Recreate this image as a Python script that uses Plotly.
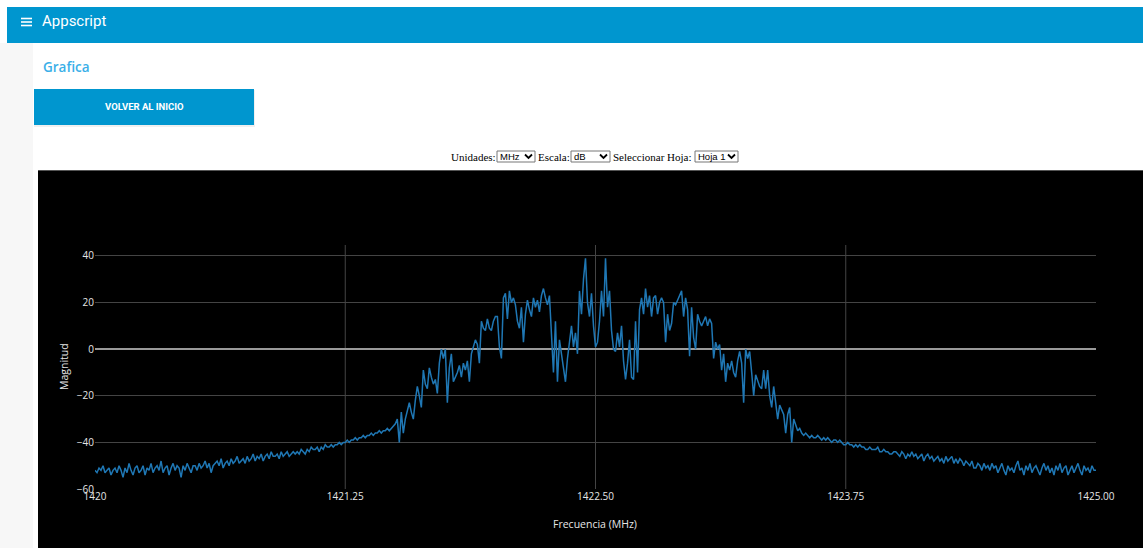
import numpy as np
import plotly.graph_objects as go

# ---------------- data (magnitude in dB, 0.01 MHz bins) ----------------
STEP = 0.01
seg_start = [1420.00, 1420.50, 1421.00, 1421.50, 1422.50, 1423.50, 1424.00, 1424.50]

mag_a = [-52,-53,-51,-52,-50,-53,-52,-51,-54,-52, -51,-53,-50,-52,-55,-51,-53,-49,-52,-54,
         -51,-50,-53,-52,-50,-54,-51,-52,-49,-53, -51,-50,-52,-48,-53,-51,-50,-54,-51,-49,
         -52,-50,-51,-55,-50,-52,-49,-51,-53,-50]
mag_b = [-50,-52,-49,-51,-50,-48,-51,-49,-53,-50, -49,-48,-50,-47,-51,-49,-48,-50,-47,-49,
         -48,-46,-49,-48,-47,-49,-46,-48,-47,-45, -48,-46,-47,-45,-48,-46,-45,-47,-44,-46,
         -46,-45,-47,-44,-46,-45,-44,-46,-45,-44]
mag_c = [-45,-44,-45,-43,-44,-45,-43,-44,-42,-43, -43,-42,-44,-42,-43,-41,-42,-42,-41,-42,
         -41,-41,-40,-41,-40,-40,-39,-40,-39,-39, -38,-39,-38,-38,-37,-38,-37,-37,-36,-37,
         -36,-36,-35,-36,-35,-35,-34,-35,-34,-33]
mag_d = [-32,-30,-40,-27,-36,-30,-27,-23,-27,-30, -22,-16,-20,-25,-9,-15,-17,-8,-12,-15,
         -13,-19,-6,0,-4,0,-23,-8,-2,-14, -12,-10,-7,-12,-6,-9,-5,-14,-2,1,
         4,2,-6,12,9,8,13,9,8,12, 14,14,1,-4,22,24,13,25,20,22,
         19,12,9,18,3,15,21,17,14,22, 18,21,16,23,26,22,19,23,4,-10,
         12,-14,4,-2,-8,-14,-4,4,10,1, 7,-2,25,15,30,39,20,14,24,10]
mag_e = [1,3,12,25,14,39,18,25,8,0, -1,7,1,10,-5,-13,-6,4,-12,-13,
         12,-10,17,22,15,26,18,23,14,22, 23,15,20,22,20,3,15,8,11,20,
         19,21,23,25,14,22,17,-3,18,5, 0,15,12,10,12,14,10,13,11,-4,
         3,0,2,-9,-2,-14,-6,-9,-5,-10, -12,-5,-1,-6,-23,0,-4,-1,-10,-20,
         -11,-14,-16,-17,-9,-17,-9,-20,-25,-16, -22,-30,-24,-26,-28,-36,-28,-25,-40,-30]
mag_f = [-33,-35,-34,-36,-37,-36,-37,-38,-37,-38, -38,-37,-38,-39,-38,-39,-38,-39,-40,-39,
         -39,-40,-39,-40,-41,-41,-40,-41,-41,-42, -41,-42,-41,-42,-42,-43,-43,-42,-43,-43,
         -43,-42,-44,-44,-43,-44,-44,-45,-45,-44]
mag_g = [-44,-45,-46,-44,-45,-47,-45,-46,-44,-46, -45,-47,-46,-45,-48,-46,-45,-47,-46,-48,
         -47,-46,-48,-47,-49,-46,-48,-47,-46,-49, -47,-49,-47,-48,-50,-48,-49,-50,-48,-51,
         -51,-49,-50,-52,-49,-51,-50,-52,-49,-51]
mag_h = [-50,-53,-51,-49,-52,-54,-50,-52,-51,-53, -50,-48,-52,-51,-54,-50,-52,-49,-53,-51,
         -50,-52,-54,-51,-49,-52,-50,-53,-51,-54, -50,-52,-49,-53,-51,-50,-54,-52,-50,-53,
         -51,-49,-52,-54,-50,-52,-51,-53,-50,-52, -52]

segments = [mag_a, mag_b, mag_c, mag_d, mag_e, mag_f, mag_g, mag_h]

x_tickvals = [1420, 1421.25, 1422.5, 1423.75, 1425]
x_ticktext = ["1420", "1421.25", "1422.50", "1423.75", "1425.00"]
y_tickvals = [-60, -40, -20, 0, 20, 40]

freq, mag = [], []
for start, seg in zip(seg_start, segments):
    freq.extend(start + STEP * np.arange(len(seg)))
    mag.extend(seg)

# ---------------- geometry helpers ----------------
W, H = 1143, 548
L, R, T, B = 95, 47, 245, 59
PW, PH = W - L - R, H - T - B


def px(x):
    return (x - L) / PW


def py(y):
    return (H - B - y) / PH


fig = go.Figure()
fig.add_trace(go.Scatter(x=freq, y=mag, mode="lines",
                         line=dict(color="#1f77b4", width=1.5),
                         hoverinfo="skip", showlegend=False))

shapes = []


def rect(x0, y0, x1, y1, fill, line_color=None, lw=0, layer="below"):
    shapes.append(dict(type="rect", xref="paper", yref="paper",
                       x0=px(x0), x1=px(x1), y0=py(y1), y1=py(y0),
                       fillcolor=fill, layer=layer,
                       line=dict(color=line_color or fill, width=lw)))


def hline(x0, x1, y, color, lw, layer="above"):
    shapes.append(dict(type="line", xref="paper", yref="paper",
                       x0=px(x0), x1=px(x1), y0=py(y), y1=py(y),
                       line=dict(color=color, width=lw), layer=layer))


# page background pieces
rect(0, 43, 33, 548, "#F7F7F7")
rect(7, 7, 1143, 43, "#0096CF")
rect(38, 170, 1143, 548, "#000000")
hline(38, 1143, 170.5, "#555555", 1, layer="below")
# hamburger icon
for yy in (18.5, 22, 25.5):
    hline(21, 32, yy, "#FFFFFF", 1.6)
# button with soft shadow
rect(34, 90, 255, 127, "rgba(0,0,0,0.06)")
rect(34, 89, 254, 125, "#0096CF")

# select boxes
boxes = [(497, 535, "MHz"), (571, 610, "dB"), (695, 738, "Hoja 1")]
for bx0, bx1, _ in boxes:
    rect(bx0, 151, bx1, 162, "#FFFFFF", "#767676", 1, layer="above")
    cx = bx1 - 6.5
    shapes.append(dict(type="path", xref="paper", yref="paper",
                       path=f"M {px(cx-3.5)} {py(154.5)} L {px(cx)} {py(158)} L {px(cx+3.5)} {py(154.5)}",
                       line=dict(color="#000000", width=1.8), layer="above"))

# vertical grid lines (interior ticks)
for tv in x_tickvals[1:-1]:
    shapes.append(dict(type="line", xref="x", yref="paper", x0=tv, x1=tv, y0=0, y1=1,
                       line=dict(color="#444444", width=1), layer="below"))

annotations = []


def ann(text, x, y, size, color, family="Roboto", xanchor="left", weight="normal", angle=0):
    annotations.append(dict(text=text, xref="paper", yref="paper", x=px(x), y=py(y),
                            xanchor=xanchor, yanchor="middle", showarrow=False,
                            textangle=angle,
                            font=dict(size=size, color=color, family=family, weight=weight)))


ann("Appscript", 40, 21, 15, "#FFFFFF", "Roboto")
ann("Grafica", 41, 67, 13.5, "#3AAFE8", "Open Sans", weight=600)
ann("VOLVER AL INICIO", 144, 107, 9.5, "#FFFFFF", "Roboto", xanchor="center", weight="bold")
serif = "Liberation Serif"
ann("Unidades:", 449, 156.5, 11, "#000000", serif)
ann("Escala:", 535.5, 156.5, 11, "#000000", serif)
ann("Seleccionar Hoja:", 611, 156.5, 11, "#000000", serif)
for bx0, bx1, label in boxes:
    ann(label, bx0 + 1, 156.5, 9.5, "#000000", "Liberation Sans")
ann("Magnitud", 64, 367, 10.5, "#E6E6E6", "Open Sans", xanchor="center", angle=-90)
ann("Frecuencia (MHz)", 595, 524, 10.5, "#E6E6E6", "Open Sans", xanchor="center")

fig.update_layout(
    width=W, height=H, autosize=False,
    margin=dict(l=L, r=R, t=T, b=B, pad=0),
    paper_bgcolor="#FFFFFF", plot_bgcolor="#000000",
    shapes=shapes, annotations=annotations,
    font=dict(family="Open Sans", color="#E6E6E6", size=10),
    xaxis=dict(range=[1420, 1425], tickvals=x_tickvals, ticktext=x_ticktext,
               showgrid=False, zeroline=False, showline=False, ticks="",
               tickfont=dict(size=10, color="#E6E6E6")),
    yaxis=dict(range=[-60, 44.7], tickvals=y_tickvals, showgrid=True,
               gridcolor="#444444", gridwidth=1, zeroline=True,
               zerolinecolor="#9A9A9A", zerolinewidth=1.5, showline=False, ticks="",
               tickfont=dict(size=10, color="#E6E6E6")),
)

fig.write_html("out.html", config={"displayModeBar": False})
